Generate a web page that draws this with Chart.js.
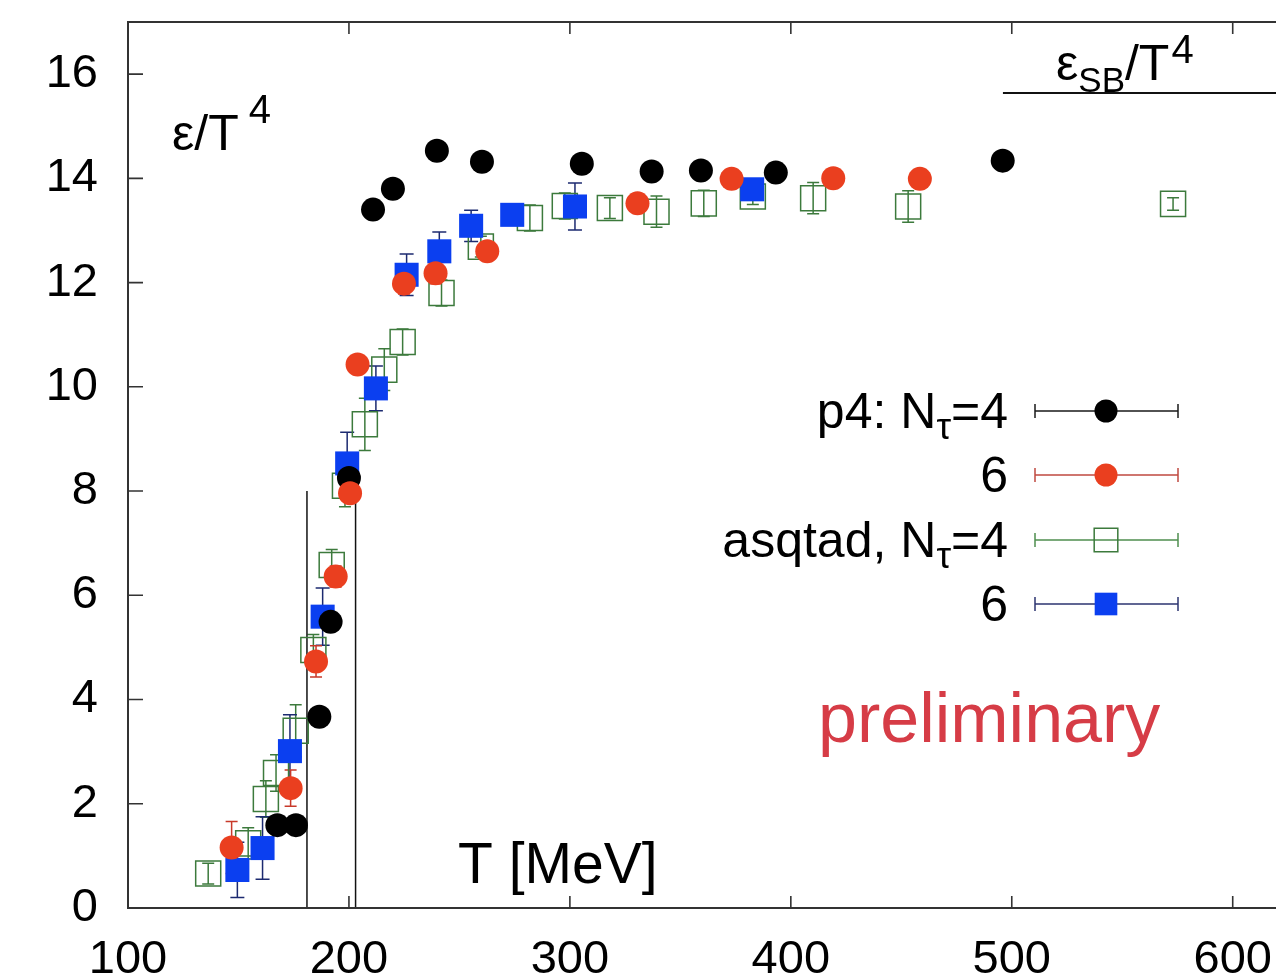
<!DOCTYPE html>
<html>
<head>
<meta charset="utf-8">
<title>Energy density</title>
<script src="https://cdn.jsdelivr.net/npm/chart.js@4.4.1/dist/chart.umd.min.js"></script>
<style>
  html, body { margin: 0; padding: 0; background: #fff; overflow: hidden; }
  #wrap { position: relative; width: 1312px; height: 979px; }
</style>
</head>
<body>
<div id="wrap"><canvas id="eos" width="1312" height="979"></canvas></div>
<script>
/* ── DATA ─────────────────────────────────────────────── */
// p4 action, N_tau = 4
const p4n4T   = [167.6, 176.0, 186.6, 191.7, 200.0, 210.9, 219.9, 239.8, 260.2, 305.4, 337.0, 359.3, 393.2, 495.9];
const p4n4E   = [1.59, 1.59, 3.67, 5.49, 8.25, 13.40, 13.80, 14.53, 14.32, 14.28, 14.13, 14.15, 14.11, 14.34];
const p4n4Err = [0.1, 0.1, 0.1, 0.1, 0.1, 0.1, 0.1, 0.1, 0.1, 0.1, 0.1, 0.1, 0.1, 0.1];

// p4 action, N_tau = 6
const p4n6T   = [146.9, 173.6, 185.1, 194.0, 200.5, 203.9, 224.9, 239.2, 262.6, 330.6, 373.2, 419.2, 458.4];
const p4n6E   = [1.16, 2.30, 4.73, 6.36, 7.96, 10.43, 11.98, 12.18, 12.60, 13.52, 13.99, 14.00, 13.99];
const p4n6Err = [0.5, 0.35, 0.3, 0.2, 0.15, 0.15, 0.2, 0.2, 0.15, 0.1, 0.1, 0.1, 0.1];

// asqtad action, N_tau = 4
const asqN4T   = [136.3, 154.4, 162.4, 167.0, 175.9, 183.9, 192.2, 198.2, 207.2, 216.0, 224.3, 241.9, 259.7, 281.9, 297.7, 318.1, 339.2, 360.6, 382.8, 410.1, 453.1, 573.0];
const asqN4E   = [0.66, 1.24, 2.09, 2.59, 3.40, 4.95, 6.58, 8.10, 9.28, 10.33, 10.86, 11.80, 12.69, 13.24, 13.47, 13.43, 13.36, 13.52, 13.65, 13.62, 13.46, 13.51];
const asqN4Err = [0.2, 0.3, 0.35, 0.35, 0.5, 0.3, 0.3, 0.4, 0.5, 0.4, 0.25, 0.25, 0.2, 0.25, 0.25, 0.2, 0.3, 0.25, 0.15, 0.3, 0.3, 0.12];

// asqtad action, N_tau = 6
const asqN6T   = [149.5, 160.9, 173.3, 188.1, 199.2, 212.2, 226.1, 240.9, 255.3, 273.9, 302.3, 382.5];
const asqN6E   = [0.73, 1.15, 3.01, 5.59, 8.53, 9.97, 12.15, 12.60, 13.09, 13.30, 13.46, 13.79];
const asqN6Err = [0.53, 0.6, 0.7, 0.55, 0.6, 0.43, 0.4, 0.37, 0.3, 0.1, 0.45, 0.1];

// Stefan-Boltzmann limit and the Tc band
const sbLevel = 15.64;
const sbFrom  = 496;
const tcLines = [181, 203];
const tcTop   = 8;

const xMin = 100, xMax = 630;
const xTicks = [100, 200, 300, 400, 500, 600];
const yTicks = [0, 2, 4, 6, 8, 10, 12, 14, 16];

/* ── STYLE ────────────────────────────────────────────── */
const FONT = "'Liberation Sans', Arial, Helvetica, sans-serif";

const SERIES = [
  { key: [['p4: N', 50], ['τ', 37, 11], ['=4', 50]], T: p4n4T, E: p4n4E, err: p4n4Err,
    style: 'circle', r: 12, fill: '#000000', stroke: '#000000', bw: 0, bar: '#000000', keyLine: '#1a1a1a', cap: 6, order: 2 },
  { key: [['6', 50]], T: p4n6T, E: p4n6E, err: p4n6Err,
    style: 'circle', r: 12, fill: '#ea3f1f', stroke: '#ea3f1f', bw: 0, bar: '#c8392a', keyLine: '#c04a40', cap: 6, order: 1 },
  { key: [['asqtad, N', 50], ['τ', 37, 11], ['=4', 50]], T: asqN4T, E: asqN4E, err: asqN4Err,
    style: 'rect', r: 17.7, fill: 'rgba(0,0,0,0)', stroke: '#3c7a3c', bw: 1.5, bar: '#3c7a3c', keyLine: '#4f8f4f', cap: 6, order: 4 },
  { key: [['6', 50]], T: asqN6T, E: asqN6E, err: asqN6Err,
    style: 'rect', r: 17, fill: '#0b3ff0', stroke: '#0b3ff0', bw: 0, bar: '#1c2a70', keyLine: '#2c3470', cap: 7, order: 3 }
];

const pts = (xs, ys) => xs.map((x, i) => ({ x: x, y: ys[i] }));

const datasets = SERIES.map(s => ({
  data: pts(s.T, s.E),
  pointStyle: s.style,
  pointRadius: s.r,
  backgroundColor: s.fill,
  borderColor: s.stroke,
  borderWidth: s.bw,
  order: s.order
}));

// thin reference lines
tcLines.forEach(t => datasets.push({
  type: 'line', data: [{ x: t, y: 0 }, { x: t, y: tcTop }],
  borderColor: '#111', borderWidth: 1.5, pointRadius: 0, showLine: true, order: 6
}));
datasets.push({
  type: 'line', data: [{ x: sbFrom, y: sbLevel }, { x: xMax, y: sbLevel }],
  borderColor: '#111', borderWidth: 2, pointRadius: 0, showLine: true, order: 6
});

/* ── PLUGINS ──────────────────────────────────────────── */
const errorBars = {
  id: 'errorBars',
  beforeDatasetsDraw(chart) {
    const { ctx, scales: { x, y } } = chart;
    ctx.save();
    ctx.lineWidth = 1.5;
    SERIES.slice().sort((a, b) => b.order - a.order).forEach(s => {
      ctx.strokeStyle = s.bar;
      s.T.forEach((t, i) => {
        const px = x.getPixelForValue(t);
        const top = y.getPixelForValue(s.E[i] + s.err[i]);
        const bot = y.getPixelForValue(s.E[i] - s.err[i]);
        ctx.beginPath();
        ctx.moveTo(px, top); ctx.lineTo(px, bot);
        ctx.moveTo(px - s.cap, top); ctx.lineTo(px + s.cap, top);
        ctx.moveTo(px - s.cap, bot); ctx.lineTo(px + s.cap, bot);
        ctx.stroke();
      });
    });
    ctx.restore();
  }
};

// gnuplot-like frame with inward ticks
const frame = {
  id: 'frame',
  afterDatasetsDraw(chart) {
    const { ctx, chartArea: a, scales: { x, y } } = chart;
    ctx.save();
    ctx.strokeStyle = '#333';
    ctx.lineWidth = 2;
    ctx.strokeRect(a.left, a.top, a.right - a.left, a.bottom - a.top);
    ctx.lineWidth = 1.6;
    ctx.beginPath();
    xTicks.forEach(v => {
      const px = x.getPixelForValue(v);
      ctx.moveTo(px, a.bottom); ctx.lineTo(px, a.bottom - 12);
      ctx.moveTo(px, a.top); ctx.lineTo(px, a.top + 12);
    });
    yTicks.forEach(v => {
      const py = y.getPixelForValue(v);
      ctx.moveTo(a.left, py); ctx.lineTo(a.left + 15, py);
      ctx.moveTo(a.right, py); ctx.lineTo(a.right - 15, py);
    });
    ctx.stroke();
    ctx.restore();
  }
};

function runs(ctx, parts, x, base, align) {
  // parts: [text, size, dy, gap]; draws left to right from x, or ending at x
  let w = 0;
  parts.forEach(p => { ctx.font = p[1] + 'px ' + FONT; w += ctx.measureText(p[0]).width + (p[3] || 0); });
  let cx = align === 'right' ? x - w : x;
  parts.forEach(p => {
    ctx.font = p[1] + 'px ' + FONT;
    cx += p[3] || 0;
    ctx.fillText(p[0], cx, base + (p[2] || 0));
    cx += ctx.measureText(p[0]).width;
  });
}

const labels = {
  id: 'labels',
  afterDraw(chart) {
    const { ctx } = chart;
    ctx.save();
    ctx.fillStyle = '#000';
    ctx.textAlign = 'left';
    ctx.textBaseline = 'alphabetic';

    // axis labels inside the frame
    runs(ctx, [['ε/T', 50], ['4', 40, -27, 10]], 172, 150);
    runs(ctx, [['ε', 50], ['SB', 35, 12], ['/T', 50], ['4', 40, -17, 2]], 1056, 80);
    ctx.font = '57px ' + FONT;
    ctx.fillText('T [MeV]', 458, 883);

    // key
    const rows = [411, 475, 540, 604];
    SERIES.forEach((s, i) => {
      const ry = rows[i];
      ctx.fillStyle = '#000';
      runs(ctx, s.key, 1008, ry + 17, 'right');
      ctx.strokeStyle = s.keyLine;
      ctx.lineWidth = 1.5;
      ctx.beginPath();
      ctx.moveTo(1035, ry); ctx.lineTo(1178, ry);
      ctx.moveTo(1035, ry - 7); ctx.lineTo(1035, ry + 7);
      ctx.moveTo(1178, ry - 7); ctx.lineTo(1178, ry + 7);
      ctx.stroke();
      ctx.fillStyle = s.fill;
      ctx.strokeStyle = s.stroke;
      ctx.lineWidth = s.bw;
      Chart.helpers.drawPoint(ctx, { pointStyle: s.style, radius: s.r - (s.style === 'rect' ? 1 : 0.5), borderWidth: s.bw, rotation: 0 }, 1106, ry);
    });

    ctx.fillStyle = '#d63c46';
    ctx.font = '70px ' + FONT;
    ctx.fillText('preliminary', 818, 742);
    ctx.restore();
  }
};

/* ── CHART ────────────────────────────────────────────── */
const tickFont = { family: FONT, size: 47 };

new Chart(document.getElementById('eos'), {
  type: 'scatter',
  data: { datasets: datasets },
  options: {
    responsive: false,
    animation: false,
    devicePixelRatio: 1,
    events: [],
    layout: { autoPadding: false, padding: { top: 22, right: 13, left: 0, bottom: 0 } },
    plugins: { legend: { display: false }, tooltip: { enabled: false } },
    scales: {
      x: {
        type: 'linear', min: xMin, max: xMax,
        afterBuildTicks: s => { s.ticks = xTicks.map(v => ({ value: v })); },
        afterFit: s => { s.height = 71; s.paddingLeft = 0; s.paddingRight = 0; },
        grid: { display: false, drawTicks: false },
        border: { display: false },
        ticks: { padding: 24, font: tickFont, color: '#000', maxRotation: 0, autoSkip: false }
      },
      y: {
        type: 'linear', min: 0, max: 17,
        afterBuildTicks: s => { s.ticks = yTicks.map(v => ({ value: v })); },
        afterFit: s => { s.width = 128; s.paddingTop = 0; s.paddingBottom = 0; },
        grid: { display: false, drawTicks: false },
        border: { display: false },
        ticks: { padding: 30, font: tickFont, color: '#000', autoSkip: false }
      }
    }
  },
  plugins: [errorBars, frame, labels]
});
</script>
</body>
</html>
